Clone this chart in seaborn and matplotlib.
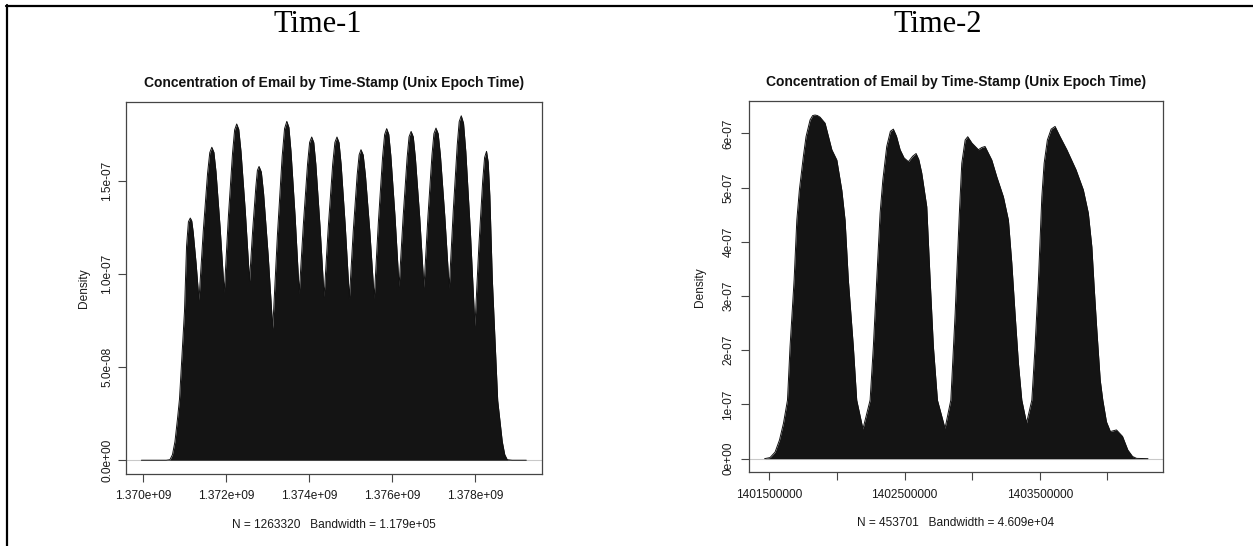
import numpy as np
import matplotlib
matplotlib.use("Agg")
import matplotlib.pyplot as plt
from matplotlib.lines import Line2D
import seaborn as sns

# ---- Time-1: kernel density of email time stamps (Unix epoch seconds) ----
t1_time = [
    1369950000, 1370550000, 1370640000, 1370700000, 1370760000, 1370820000,
    1370870000, 1370990000, 1371040000, 1371085000, 1371130000, 1371165000,
    1371200000, 1371270000, 1371340000, 1371443000, 1371547000, 1371600000,
    1371650000, 1371700000, 1371750000, 1371850000, 1371950000, 1372050000,
    1372150000, 1372200000, 1372250000, 1372300000, 1372353000, 1372457000,
    1372560000, 1372637000, 1372713000, 1372750000, 1372790000, 1372845000,
    1372900000, 1373010000, 1373120000, 1373233000, 1373347000, 1373405000,
    1373460000, 1373510000, 1373560000, 1373660000, 1373760000, 1373860000,
    1373960000, 1374010000, 1374060000, 1374110000, 1374160000, 1374260000,
    1374360000, 1374463000, 1374567000, 1374620000, 1374670000, 1374720000,
    1374770000, 1374870000, 1374970000, 1375063000, 1375157000, 1375205000,
    1375250000, 1375303000, 1375357000, 1375463000, 1375570000, 1375670000,
    1375770000, 1375820000, 1375870000, 1375920000, 1375970000, 1376070000,
    1376170000, 1376267000, 1376363000, 1376410000, 1376460000, 1376512000,
    1376563000, 1376667000, 1376770000, 1376867000, 1376963000, 1377010000,
    1377060000, 1377113000, 1377167000, 1377273000, 1377380000, 1377477000,
    1377573000, 1377620000, 1377670000, 1377725000, 1377780000, 1377890000,
    1378000000, 1378093000, 1378187000, 1378233000, 1378280000, 1378320000,
    1378360000, 1378420000, 1378550000, 1378600000, 1378660000, 1378720000,
    1378780000, 1378900000, 1379240000,
]
# density in units of 1e-07
t1_density_e7 = [
    0.0, 0.0, 0.003, 0.03, 0.10, 0.22,
    0.33, 0.80, 1.15, 1.28, 1.30, 1.285,
    1.225, 1.058, 0.86, 1.23, 1.54, 1.651,
    1.68, 1.653, 1.55, 1.25, 0.90, 1.31,
    1.65, 1.773, 1.805, 1.776, 1.66, 1.34,
    0.964, 1.24, 1.47, 1.556, 1.577, 1.547,
    1.43, 1.10, 0.708, 1.21, 1.63, 1.78,
    1.819, 1.787, 1.66, 1.31, 0.896, 1.27,
    1.59, 1.706, 1.735, 1.706, 1.59, 1.26,
    0.878, 1.26, 1.59, 1.706, 1.735, 1.705,
    1.59, 1.26, 0.869, 1.23, 1.53, 1.639,
    1.667, 1.639, 1.53, 1.23, 0.869, 1.28,
    1.625, 1.748, 1.78, 1.750, 1.636, 1.314,
    0.932, 1.307, 1.623, 1.736, 1.765, 1.736,
    1.623, 1.305, 0.928, 1.313, 1.638, 1.753,
    1.783, 1.753, 1.637, 1.31, 0.923, 1.34,
    1.692, 1.817, 1.849, 1.809, 1.657, 1.228,
    0.720, 1.142, 1.499, 1.625, 1.658, 1.60,
    1.42, 0.97, 0.32, 0.22, 0.10, 0.03,
    0.003, 0.0, 0.0,
]

# ---- Time-2 ----
t2_time = [
    1401465000, 1401505000, 1401542000, 1401575000, 1401604000, 1401634000,
    1401653000, 1401683000, 1401703000, 1401722000, 1401751000, 1401771000,
    1401801000, 1401820000, 1401838000, 1401856000, 1401875000, 1401912000,
    1401962000, 1401999000, 1402036000, 1402060000, 1402084000, 1402121000,
    1402146000, 1402192000, 1402245000, 1402269000, 1402294000, 1402319000,
    1402339000, 1402368000, 1402395000, 1402417000, 1402440000, 1402467000,
    1402496000, 1402528000, 1402560000, 1402585000, 1402605000, 1402627000,
    1402664000, 1402689000, 1402713000, 1402743000, 1402799000, 1402842000,
    1402874000, 1402905000, 1402923000, 1402948000, 1402967000, 1402999000,
    1403046000, 1403070000, 1403095000, 1403145000, 1403182000, 1403231000,
    1403268000, 1403293000, 1403317000, 1403342000, 1403367000, 1403402000,
    1403441000, 1403465000, 1403490000, 1403515000, 1403532000, 1403556000,
    1403584000, 1403613000, 1403650000, 1403700000, 1403768000, 1403822000,
    1403859000, 1403885000, 1403902000, 1403922000, 1403947000, 1403966000,
    1403993000, 1404022000, 1404067000, 1404112000, 1404151000, 1404186000,
    1404216000, 1404300000,
]
t2_density_e7 = [
    0.0, 0.02, 0.12, 0.345, 0.65, 1.08,
    2.07, 3.30, 4.40, 4.96, 5.57, 5.94,
    6.25, 6.33, 6.34, 6.33, 6.30, 6.19,
    5.70, 5.51, 4.95, 4.40, 3.30, 2.07,
    1.08, 0.548, 1.08, 2.07, 3.30, 4.53,
    5.14, 5.76, 6.04, 6.08, 5.95, 5.70,
    5.55, 5.48, 5.58, 5.63, 5.52, 5.27,
    4.65, 3.30, 2.07, 1.08, 0.56, 1.08,
    2.68, 4.53, 5.45, 5.88, 5.94, 5.82,
    5.70, 5.74, 5.76, 5.51, 5.20, 4.83,
    4.40, 3.61, 2.68, 1.76, 1.08, 0.66,
    1.08, 2.07, 3.30, 4.83, 5.45, 5.88,
    6.08, 6.13, 5.94, 5.70, 5.33, 4.96,
    4.53, 3.91, 3.17, 2.37, 1.45, 1.08,
    0.68, 0.50, 0.53, 0.41, 0.16, 0.04,
    0.005, 0.0,
]

panel_names = ["Time-1", "Time-2"]
plot_title = "Concentration of Email by Time-Stamp (Unix Epoch Time)"
y_label = "Density"
t1_note = "N = 1263320   Bandwidth = 1.179e+05"
t2_note = "N = 453701   Bandwidth = 4.609e+04"

t1_xticks = [1370000000, 1372000000, 1374000000, 1376000000, 1378000000]
t1_xticklabels = ["1.370e+09", "1.372e+09", "1.374e+09", "1.376e+09", "1.378e+09"]
t1_yticks = [0.0, 5e-08, 1e-07, 1.5e-07]
t1_yticklabels = ["0.0e+00", "5.0e-08", "1.0e-07", "1.5e-07"]

t2_xticks = [1401500000, 1402000000, 1402500000, 1403000000, 1403500000, 1404000000]
t2_xticklabels = ["1401500000", "", "1402500000", "", "1403500000", ""]
t2_yticks = [0.0, 1e-07, 2e-07, 3e-07, 4e-07, 5e-07, 6e-07]
t2_yticklabels = ["0e+00", "1e-07", "2e-07", "3e-07", "4e-07", "5e-07", "6e-07"]

# ---- styling ----
sns.set_theme(style="white")
plt.rcParams["font.family"] = ["Liberation Sans", "DejaVu Sans"]

W, H = 1253, 546
fig = plt.figure(figsize=(W / 100, H / 100), dpi=100)
fig.patch.set_facecolor("white")


def fx(px):
    return px / W


def fy(py):
    return 1 - py / H


AXIS_COLOR = "#454545"
FILL_COLOR = "#141414"


def r_limits(values):
    lo, hi = float(np.min(values)), float(np.max(values))
    pad = 0.04 * (hi - lo)
    return lo - pad, hi + pad


def density_panel(rect, times, dens_e7, xticks, xticklabels, yticks, yticklabels, ypad):
    ax = fig.add_axes(rect)
    x = np.asarray(times, dtype=float)
    y = np.asarray(dens_e7, dtype=float) * 1e-7
    ax.axhline(0, color="#c9c9c9", lw=0.8, zorder=1)
    ax.fill_between(x, 0, y, color=FILL_COLOR, lw=0, zorder=2)
    sns.lineplot(x=x, y=y, ax=ax, color="#111111", lw=0.7, sort=False,
                 estimator=None, zorder=3)
    ax.set_xlim(*r_limits(x))
    ax.set_ylim(*r_limits(y))
    ax.set_xticks(xticks, labels=xticklabels)
    ax.set_yticks(yticks, labels=yticklabels, rotation=90, va="center")
    ax.set_xlabel("")
    ax.set_ylabel("")
    for sp in ax.spines.values():
        sp.set_visible(True)
        sp.set_color(AXIS_COLOR)
        sp.set_linewidth(0.9)
    ax.tick_params(axis="both", direction="out", length=5.8, width=0.8,
                   color=AXIS_COLOR, labelcolor="#1a1a1a", labelsize=8.6)
    ax.tick_params(axis="x", pad=6.0, bottom=True)
    ax.tick_params(axis="y", pad=ypad, left=True)
    ax.grid(False)
    ax.set_facecolor("white")
    return ax


# left panel
density_panel([fx(126), fy(474), fx(541.7) - fx(126), fy(102) - fy(474)],
              t1_time, t1_density_e7, t1_xticks, t1_xticklabels,
              t1_yticks, t1_yticklabels, ypad=3.2)
# right panel
density_panel([fx(749.3), fy(472.4), fx(1163.3) - fx(749.3), fy(101.3) - fy(472.4)],
              t2_time, t2_density_e7, t2_xticks, t2_xticklabels,
              t2_yticks, t2_yticklabels, ypad=5.0)

# panel headings (serif, like the surrounding document)
fig.text(fx(318), fy(24), panel_names[0], ha="center", va="center",
         family=["Liberation Serif", "DejaVu Serif"], fontsize=22, color="black")
fig.text(fx(938), fy(24), panel_names[1], ha="center", va="center",
         family=["Liberation Serif", "DejaVu Serif"], fontsize=22, color="black")

# plot titles
fig.text(fx(334), fy(83), plot_title, ha="center", va="center",
         fontsize=10, fontweight="bold", color="#111111")
fig.text(fx(956), fy(82), plot_title, ha="center", va="center",
         fontsize=10, fontweight="bold", color="#111111")

# y-axis titles
fig.text(fx(84), fy(288), y_label, ha="center", va="center", rotation=90,
         fontsize=8.6, color="#1a1a1a")
fig.text(fx(700), fy(287), y_label, ha="center", va="center", rotation=90,
         fontsize=8.6, color="#1a1a1a")

# sample size / bandwidth notes
fig.text(fx(334), fy(525), t1_note, ha="center", va="center",
         fontsize=8.6, color="#1a1a1a")
fig.text(fx(956), fy(523), t2_note, ha="center", va="center",
         fontsize=8.6, color="#1a1a1a")

# table-cell rules along the top and left edge
fig.add_artist(Line2D([fx(6.2), 1.0], [fy(5.8), fy(5.8)], color="black", lw=1.6))
fig.add_artist(Line2D([fx(7.2), fx(7.2)], [fy(5.0), 0.0], color="black", lw=1.6))

fig.savefig("out.png", dpi=100, facecolor="white")
